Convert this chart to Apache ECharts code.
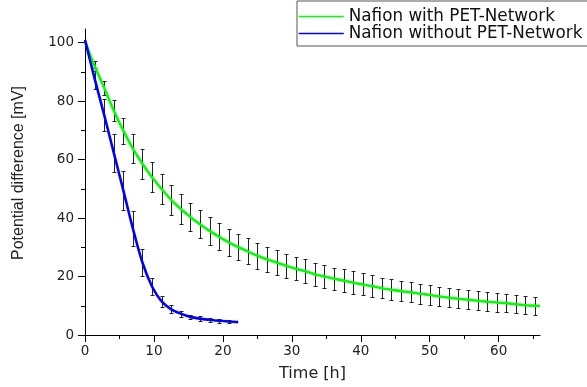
<!DOCTYPE html>
<html><head><meta charset="utf-8">
<script src="https://cdn.jsdelivr.net/npm/echarts@6/dist/echarts.min.js"></script>
<style>html,body{margin:0;padding:0;background:#fff}#c{width:587px;height:387px}</style>
</head><body><div id="c"></div>
<script>
// ---- data ----
const times = [0, 1.39, 2.78, 4.17, 5.56, 6.94, 8.33, 9.72, 11.11, 12.5, 13.89, 15.28, 16.67, 18.06, 19.44, 20.83, 22.22, 23.61, 25.0, 26.39, 27.78, 29.17, 30.56, 31.94, 33.33, 34.72, 36.11, 37.5, 38.89, 40.28, 41.67, 43.06, 44.44, 45.83, 47.22, 48.61, 50.0, 51.39, 52.78, 54.17, 55.56, 56.94, 58.33, 59.72, 61.11, 62.5, 63.89, 65.28];
const greenMean = [100.5, 92.0, 84.6, 76.8, 69.9, 63.8, 58.6, 54.0, 50.0, 46.2, 43.1, 40.4, 37.9, 35.6, 33.6, 31.7, 30.1, 28.6, 27.1, 25.9, 24.8, 23.7, 22.7, 21.8, 20.8, 20.0, 19.3, 18.6, 17.9, 17.3, 16.7, 16.0, 15.5, 15.0, 14.6, 14.1, 13.7, 13.2, 12.8, 12.4, 12.1, 11.7, 11.4, 11.1, 10.9, 10.5, 10.2, 10.0];
const greenErr = [0, 1.8, 2.4, 3.7, 4.4, 4.9, 5.2, 5.1, 5.1, 5.2, 5.0, 4.9, 4.85, 4.75, 4.65, 4.5, 4.5, 4.45, 4.45, 4.2, 4.3, 4.15, 4.05, 4.05, 4.0, 3.9, 3.75, 3.85, 3.85, 3.75, 3.7, 3.5, 3.6, 3.5, 3.45, 3.4, 3.35, 3.35, 3.35, 3.25, 3.2, 3.3, 3.25, 3.2, 3.15, 3.1, 3.15, 3.1];
const greenTailTime = 66;
const greenTailValue = 9.9;
const blueTimes = [0, 1.39, 2.78, 4.17, 5.56, 6.94, 8.33, 9.72, 11.11, 12.5, 13.89, 15.28, 16.67, 18.06, 19.44, 20.83, 22.22];
const blueMean = [101, 87.8, 75.3, 62.4, 49.5, 36.5, 24.8, 16.6, 11.5, 8.8, 7.3, 6.2, 5.6, 5.2, 4.85, 4.6, 4.4];
const blueErr = [0, 3.5, 5.4, 6.5, 6.6, 6.0, 4.6, 2.9, 1.8, 1.4, 1.0, 0.8, 0.75, 0.7, 0.7, 0.65, 0];
const seriesNames = ['Nafion with PET-Network', 'Nafion without PET-Network'];
const seriesColors = ['#00ff00', '#0000ff'];
const xTicks = [0, 10, 20, 30, 40, 50, 60];
const xMinorTicks = [5, 15, 25, 35, 45, 55, 65];
const yTicks = [0, 20, 40, 60, 80, 100];
const yMinorTicks = [10, 30, 50, 70, 90];
const xMax = 66;
const yMax = 104.7;

// ---- build ----
const greenLine = times.map((t, i) => [t, greenMean[i]]).concat([[greenTailTime, greenTailValue]]);
const blueLine = blueTimes.map((t, i) => [t, blueMean[i]]);
function bars(ts, means, errs) {
  const out = [];
  ts.forEach((t, i) => { if (errs[i] > 0) out.push([t, means[i] - errs[i], means[i] + errs[i]]); });
  return out;
}
function renderErr(params, api) {
  const x = api.value(0), lo = api.value(1), hi = api.value(2);
  const pLo = api.coord([x, lo]), pHi = api.coord([x, hi]);
  const px = Math.round(pLo[0]) + 0.5;
  const yl = Math.round(pLo[1]) + 0.5, yh = Math.round(pHi[1]) + 0.5;
  const cap = 2;
  const style = { stroke: '#222', lineWidth: 1 };
  return { type: 'group', children: [
    { type: 'line', shape: { x1: px, y1: yl, x2: px, y2: yh }, style },
    { type: 'line', shape: { x1: px - cap, y1: yl, x2: px + cap, y2: yl }, style },
    { type: 'line', shape: { x1: px - cap, y1: yh, x2: px + cap, y2: yh }, style }
  ]};
}
const txt = '#222';
const chart = echarts.init(document.getElementById('c'), null, { renderer: 'canvas' });
chart.setOption({
  animation: false,
  backgroundColor: '#fff',
  grid: { left: 85, right: 47, top: 29, bottom: 51 },
  legend: {
    left: 297, top: 1, orient: 'vertical', itemGap: 0, itemWidth: 45, itemHeight: 14,
    padding: [7, 20, 4, 1], borderColor: '#555', borderWidth: 1, borderRadius: 0,
    textStyle: { fontFamily: 'DejaVu Sans', fontSize: 16.8, color: '#111', lineHeight: 14 },
    itemStyle: { opacity: 0, borderWidth: 0 },
    data: seriesNames.map((n, i) => ({ name: n, lineStyle: { color: seriesColors[i], width: 1.5, opacity: 1 } }))
  },
  xAxis: [
    { type: 'value', min: 0, max: xMax, position: 'bottom',
      axisLine: { show: true, onZero: false, lineStyle: { color: '#000', width: 1 } },
      axisTick: { show: true, customValues: xTicks, length: 7, lineStyle: { color: '#000' } },
      axisLabel: { customValues: xTicks, margin: 9, fontFamily: 'DejaVu Sans', fontSize: 13.5, color: txt },
      splitLine: { show: false },
      name: 'Time [h]', nameLocation: 'middle', nameGap: 31,
      nameTextStyle: { fontFamily: 'DejaVu Sans', fontSize: 16, color: txt } },
    { type: 'value', min: 0, max: xMax, position: 'bottom',
      axisLine: { show: false, onZero: false },
      axisTick: { show: true, customValues: xMinorTicks, length: 4, lineStyle: { color: '#000' } },
      axisLabel: { show: false }, splitLine: { show: false } }
  ],
  yAxis: [
    { type: 'value', min: 0, max: yMax, position: 'left',
      axisLine: { show: true, onZero: false, lineStyle: { color: '#000', width: 1 } },
      axisTick: { show: true, customValues: yTicks, length: 7, lineStyle: { color: '#000' } },
      axisLabel: { customValues: yTicks, margin: 11, fontFamily: 'DejaVu Sans', fontSize: 13.5, color: txt },
      splitLine: { show: false },
      name: 'Potential difference [mV]', nameLocation: 'middle', nameGap: 58, nameRotate: 90,
      nameTextStyle: { fontFamily: 'Liberation Sans', fontSize: 16, color: txt, padding: [0, 0, 0, 18] } },
    { type: 'value', min: 0, max: yMax, position: 'left',
      axisLine: { show: false, onZero: false },
      axisTick: { show: true, customValues: yMinorTicks, length: 4, lineStyle: { color: '#000' } },
      axisLabel: { show: false }, splitLine: { show: false } }
  ],
  series: [
    { type: 'custom', name: 'gErr', renderItem: renderErr, data: bars(times, greenMean, greenErr),
      encode: { x: 0, y: [1, 2] }, z: 2, silent: true },
    { type: 'custom', name: 'bErr', renderItem: renderErr, data: bars(blueTimes, blueMean, blueErr),
      encode: { x: 0, y: [1, 2] }, z: 2, silent: true },
    { type: 'line', name: seriesNames[0], data: greenLine, symbol: 'none', smooth: 0.3,
      color: seriesColors[0], lineStyle: { color: seriesColors[0], width: 2.6 }, z: 5 },
    { type: 'line', name: seriesNames[1], data: blueLine, symbol: 'none', smooth: 0.3,
      color: seriesColors[1], lineStyle: { color: seriesColors[1], width: 2.6 }, z: 5 }
  ]
});
</script>
</body></html>
